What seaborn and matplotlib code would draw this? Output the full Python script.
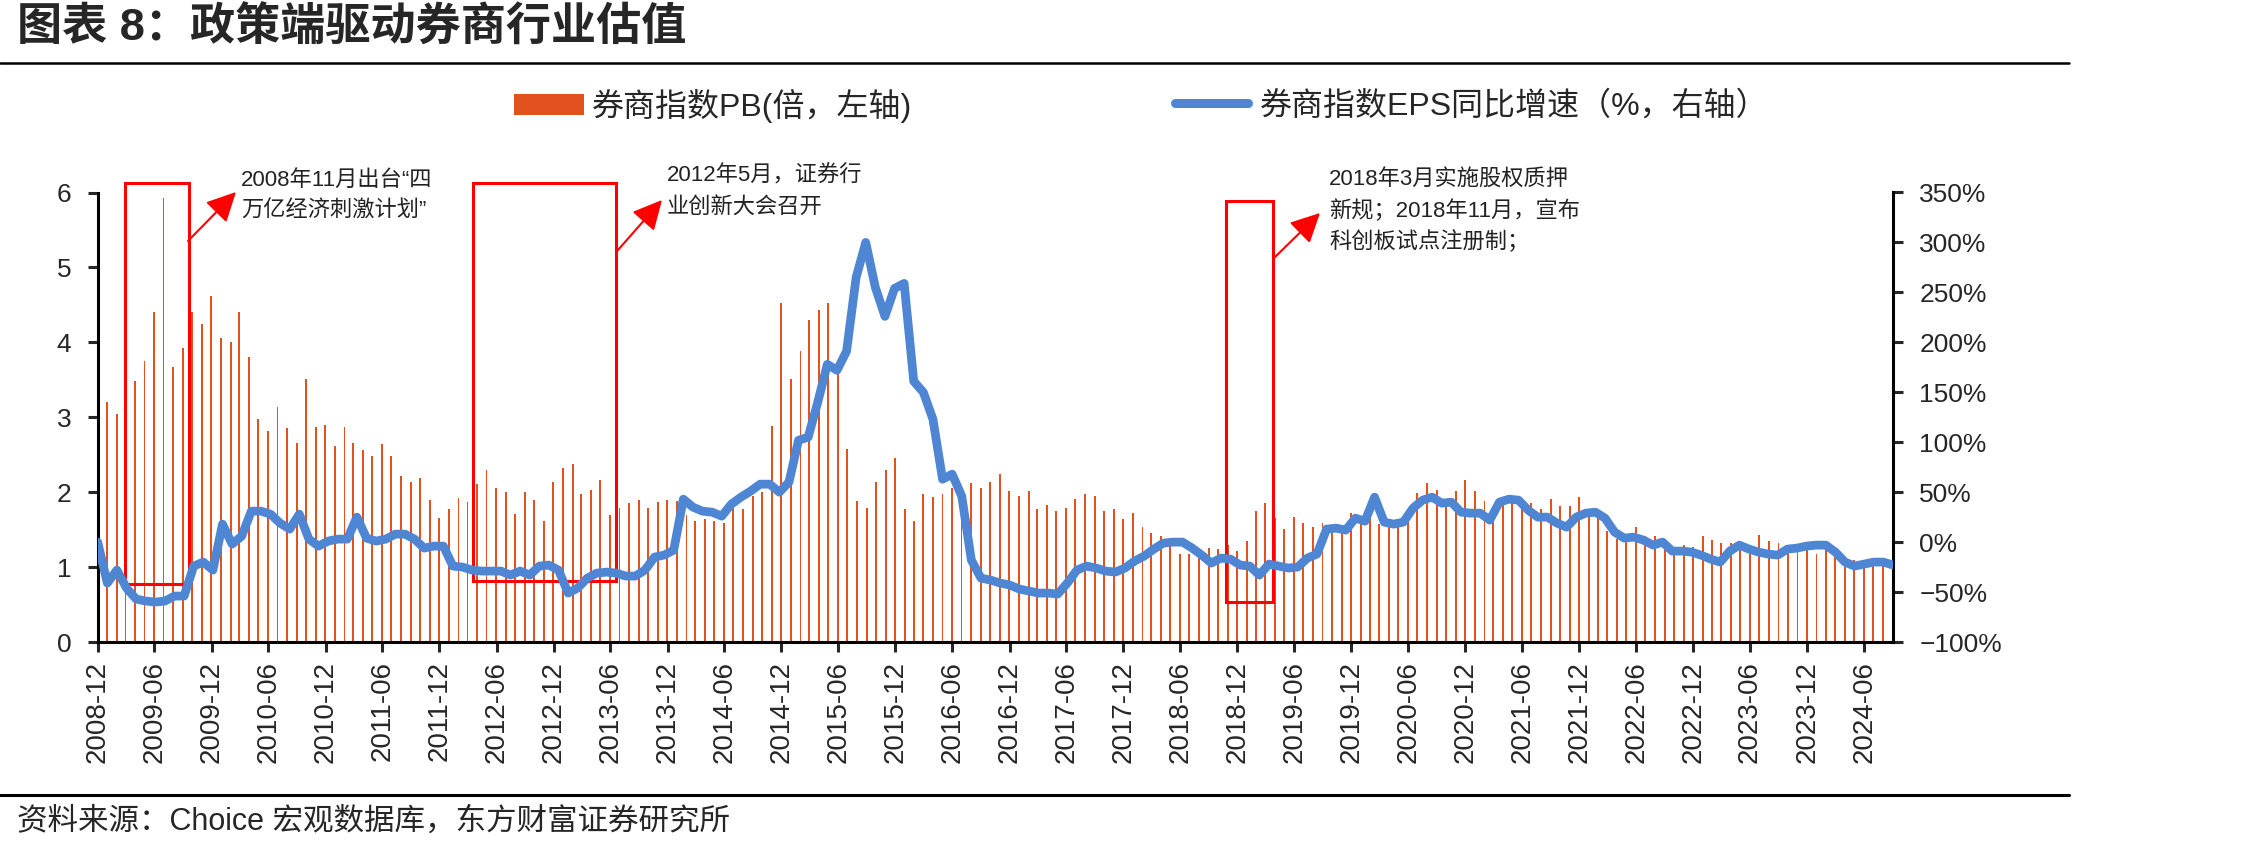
import matplotlib
matplotlib.use('Agg')
import matplotlib.pyplot as plt
import matplotlib.dates as mdates
from matplotlib.patches import Rectangle, Patch, FancyArrowPatch
from matplotlib.lines import Line2D
from matplotlib.ticker import FuncFormatter
import numpy as np
import pandas as pd
import seaborn as sns

# 券商指数PB(倍)，月度，2008-12 起
pb = [3.20, 3.04, 3.30, 3.48, 3.75, 4.41, 5.92, 3.67, 3.93, 4.41,
      4.25, 4.62, 4.06, 4.01, 4.41, 3.80, 2.98, 2.82, 3.14, 2.85,
      2.66, 3.51, 2.87, 2.90, 2.61, 2.87, 2.66, 2.56, 2.48, 2.64,
      2.48, 2.22, 2.13, 2.19, 1.90, 1.66, 1.77, 1.92, 1.87, 2.11,
      2.30, 2.06, 2.00, 1.71, 2.00, 1.90, 1.61, 2.13, 2.32, 2.38,
      1.98, 2.03, 2.16, 1.69, 1.79, 1.85, 1.90, 1.79, 1.87, 1.90,
      1.88, 1.69, 1.61, 1.64, 1.61, 1.59, 1.79, 1.77, 1.95, 2.00,
      2.88, 4.52, 3.51, 3.89, 4.30, 4.43, 4.52, 3.60, 2.58, 1.88,
      1.79, 2.14, 2.30, 2.45, 1.77, 1.61, 1.98, 1.93, 1.98, 2.05,
      2.03, 2.12, 2.06, 2.14, 2.24, 2.01, 1.95, 2.01, 1.77, 1.83,
      1.75, 1.79, 1.91, 1.98, 1.95, 1.75, 1.77, 1.64, 1.72, 1.53,
      1.45, 1.42, 1.37, 1.17, 1.17, 1.14, 1.25, 1.24, 1.30, 1.21,
      1.35, 1.75, 1.85, 1.66, 1.51, 1.67, 1.59, 1.54, 1.59, 1.50,
      1.46, 1.72, 1.66, 1.68, 1.58, 1.53, 1.53, 1.68, 1.99, 2.12,
      2.03, 1.91, 2.01, 2.16, 2.01, 1.88, 1.68, 1.85, 1.93, 1.91,
      1.85, 1.77, 1.91, 1.82, 1.82, 1.93, 1.73, 1.73, 1.48, 1.38,
      1.37, 1.54, 1.41, 1.42, 1.32, 1.27, 1.29, 1.27, 1.41, 1.36,
      1.32, 1.32, 1.32, 1.28, 1.43, 1.35, 1.32, 1.28, 1.28, 1.28,
      1.17, 1.28, 1.19, 1.12, 1.10, 1.03, 1.01, 1.02]

# 券商指数EPS同比增速(%)
eps = [0, -41, -28, -46, -57, -59, -60, -59, -54, -54,
       -24, -20, -28, 18, -2, 6, 31, 31, 28, 19,
       13, 28, 3, -4, 1, 3, 3, 25, 4, 1,
       3, 8, 8, 3, -6, -4, -4, -24, -25, -28,
       -29, -29, -29, -33, -29, -33, -24, -23, -28, -51,
       -46, -36, -31, -30, -31, -34, -34, -28, -15, -13,
       -8, 43, 35, 31, 30, 26, 38, 45, 51, 58,
       58, 50, 60, 102, 105, 140, 178, 172, 191, 265,
       300, 255, 226, 254, 259, 161, 150, 123, 63, 68,
       46, -18, -36, -38, -41, -43, -47, -49, -51, -51,
       -52, -41, -28, -24, -26, -29, -30, -26, -19, -14,
       -7, -1, 0, 0, -6, -13, -21, -16, -17, -23,
       -24, -33, -22, -24, -26, -25, -16, -12, 13, 14,
       12, 24, 21, 45, 20, 18, 20, 34, 42, 45,
       39, 40, 30, 29, 29, 22, 40, 43, 42, 32,
       25, 25, 19, 15, 25, 29, 30, 24, 10, 4,
       5, 2, -3, 0, -9, -9, -10, -13, -17, -20,
       -9, -3, -7, -10, -12, -13, -7, -6, -4, -3,
       -3, -10, -20, -24, -22, -20, -20, -23]

start_month = '2008-12-01'
tick_start, tick_end = '2008-12-01', '2024-06-01'
axis_end = '2024-09-01'

title = '图表 8：政策端驱动券商行业估值'
pb_label = '券商指数PB(倍，左轴)'
eps_label = '券商指数EPS同比增速（%，右轴）'
source = '资料来源：Choice 宏观数据库，东方财富证券研究所'

# policy windows: (start, end, bottom, top in PB units)
boxes = [('2009-02-26', '2009-09-19', 0.77, 6.13),
         ('2012-03-18', '2013-06-20', 0.81, 6.13),
         ('2018-10-25', '2019-03-26', 0.54, 5.89)]
notes = ['2008年11月出台“四\n万亿经济刺激计划”',
         '2012年5月，证券行\n业创新大会召开',
         '2018年3月实施股权质押\n新规；2018年11月，宣布\n科创板试点注册制；']

bar_color = '#E2511E'
line_color = '#4F86D3'

sns.set_style('ticks')
plt.rcParams['font.family'] = ['Liberation Sans', 'Noto Sans CJK SC']
plt.rcParams['axes.unicode_minus'] = True

W, H = 2253, 849
fig = plt.figure(figsize=(W / 100, H / 100), dpi=100)


def fx(x):
    return x / W


def fy(y):
    return 1 - y / H


rect = [fx(97.7), fy(642), fx(1893) - fx(97.7), fy(192.5) - fy(642)]
ax = fig.add_axes(rect)

months = pd.date_range(start_month, periods=len(pb), freq='MS') + pd.offsets.MonthEnd(0)
ax.bar(months, pb, width=6, color=bar_color, linewidth=0, zorder=2)
ax.set_xlim(pd.Timestamp(start_month), pd.Timestamp(axis_end))
ax.set_ylim(0, 6)
ax.set_yticks(range(0, 7))

ticks = pd.date_range(tick_start, tick_end, freq='6MS')
ax.set_xticks(ticks)
ax.set_xticklabels([t.strftime('%Y-%m') for t in ticks], rotation=90)

for s in ['top', 'right']:
    ax.spines[s].set_visible(False)
for s in ['left', 'bottom']:
    ax.spines[s].set_linewidth(2.2)
    ax.spines[s].set_color('black')
ax.tick_params(axis='y', direction='out', length=7, width=2.2, labelsize=19, pad=12)
ax.tick_params(axis='x', direction='out', length=7, width=2.2, labelsize=20, pad=7)

# red boxes around policy windows
for b0, b1, y0, y1 in boxes:
    x0 = mdates.date2num(pd.Timestamp(b0))
    x1 = mdates.date2num(pd.Timestamp(b1))
    ax.add_patch(Rectangle((x0, y0), x1 - x0, y1 - y0, fill=False,
                           edgecolor='#FF0000', linewidth=2.2, zorder=4, clip_on=False))

# EPS growth on its own secondary axis (points span the full width)
ax2 = fig.add_axes(rect)
ax2.patch.set_visible(False)
sns.lineplot(x=np.arange(len(eps)), y=eps, ax=ax2, color=line_color, linewidth=6.3,
             solid_capstyle='round', solid_joinstyle='round', zorder=5)
ax2.set_xlim(0, len(eps) - 1)
ax2.set_ylim(-100, 350)
ax2.set_yticks(range(-100, 351, 50))
ax2.yaxis.set_major_formatter(FuncFormatter(lambda v, _: f'{v:.0f}%'.replace('-', '\u2212')))
ax2.yaxis.tick_right()
ax2.xaxis.set_visible(False)
ax2.set_xlabel('')
ax2.set_ylabel('')
for s in ['top', 'left', 'bottom']:
    ax2.spines[s].set_visible(False)
ax2.spines['right'].set_linewidth(2.2)
ax2.spines['right'].set_color('black')
ax2.tick_params(axis='y', direction='out', length=7, width=2.2, labelsize=19, pad=12)

# annotations
arrows = [((188, 241), (236, 192)),
          ((618, 250), (662, 200)),
          ((1274, 258), (1320, 213))]
for (xa, ya), (xb, yb) in arrows:
    fig.add_artist(FancyArrowPatch((fx(xa), fy(ya)), (fx(xb), fy(yb)),
                                   transform=fig.transFigure,
                                   arrowstyle='-|>,head_length=0.9,head_width=0.45',
                                   mutation_scale=20, color='#FF0000', lw=1.5,
                                   shrinkA=0, shrinkB=0))

note_pos = [(241, 180), (667, 176), (1329, 180)]
for (x, y), note in zip(note_pos, notes):
    for k, line in enumerate(note.split('\n')):
        fig.text(fx(x), fy(y + 31 * k), line, fontsize=16, va='center', ha='left',
                 color='#222222')

# title, rules, source
fig.text(fx(17), fy(28), title, fontsize=32.5, fontweight='bold', va='center', ha='left')
fig.add_artist(Line2D([0, fx(2069)], [fy(63), fy(63)], transform=fig.transFigure,
                      color='black', lw=1.8))
fig.add_artist(Line2D([0, fx(2069)], [fy(795), fy(795)], transform=fig.transFigure,
                      color='black', lw=2.2))
fig.text(fx(17), fy(822), source, fontsize=22, va='center', ha='left')

# legend
leg1 = fig.legend(handles=[Patch(facecolor=bar_color, edgecolor='none')], labels=[pb_label],
                  loc='center left', bbox_to_anchor=(fx(514), fy(106)), frameon=False,
                  fontsize=23, handlelength=2.2, handleheight=0.62, handletextpad=0.25,
                  borderpad=0, borderaxespad=0)
leg2 = fig.legend(handles=[Line2D([], [], color=line_color, lw=6.5, solid_capstyle='round')],
                  labels=[eps_label], loc='center left', bbox_to_anchor=(fx(1175), fy(106)),
                  frameon=False, fontsize=23, handlelength=2.3, handletextpad=0.35,
                  borderpad=0, borderaxespad=0)

fig.savefig('out.png', dpi=100, facecolor='white')
